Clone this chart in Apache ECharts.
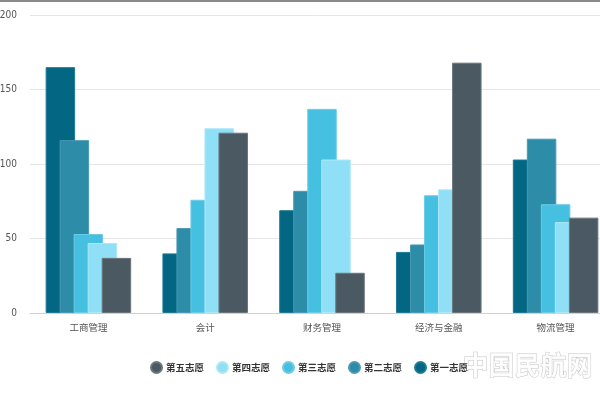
<!DOCTYPE html>
<html>
<head>
<meta charset="utf-8">
<script src="https://cdn.jsdelivr.net/npm/echarts@6/dist/echarts.min.js"></script>
<style>html,body{margin:0;padding:0;background:#fff;}#c{width:600px;height:400px;}</style>
</head>
<body>
<div id="c"></div>
<script>
var categories = ['工商管理', '会计', '财务管理', '经济与金融', '物流管理'];
var seriesNames = ['第一志愿', '第二志愿', '第三志愿', '第四志愿', '第五志愿'];
var legendOrder = ['第五志愿', '第四志愿', '第三志愿', '第二志愿', '第一志愿'];
var choice1 = [165, 40, 69, 41, 103];
var choice2 = [116, 57, 82, 46, 117];
var choice3 = [53, 76, 137, 79, 73];
var choice4 = [47, 124, 103, 83, 61];
var choice5 = [37, 121, 27, 168, 64];
var yTicks = [0, 50, 100, 150, 200];

var values = [choice1, choice2, choice3, choice4, choice5];
var colors = ['#036784', '#2d8ca8', '#46c0e1', '#8fe0f6', '#4b5a62'];
var borders = ['#1d7a96', '#4a9ab3', '#6ccbe6', '#aee8f8', '#6b777d'];

var chart = echarts.init(document.getElementById('c'));
var series = seriesNames.map(function (n, i) {
  return {
    name: n,
    type: 'bar',
    data: values[i],
    barWidth: 29.5,
    barGap: '-52.5%',
    itemStyle: { color: colors[i], borderColor: borders[i], borderWidth: 1 }
  };
});
chart.setOption({
  animation: false,
  color: colors,
  grid: { left: 30, width: 584, top: 15, height: 298, containLabel: false, outerBoundsMode: 'none' },
  legend: {
    data: legendOrder,
    top: 356,
    left: 145,
    icon: 'circle',
    itemWidth: 11,
    itemHeight: 11,
    itemGap: 12,
    textStyle: { color: '#333', fontSize: 9.5, fontWeight: 'bold', fontFamily: 'Noto Sans CJK SC', padding: [0, 0, 0, -1] }
  },
  xAxis: {
    type: 'category',
    data: categories,
    axisTick: { show: false },
    axisLine: { lineStyle: { color: '#c9d1e3' } },
    axisLabel: { color: '#555', fontSize: 9.5, margin: 10, fontFamily: 'Noto Sans CJK SC' }
  },
  yAxis: {
    type: 'value',
    min: yTicks[0],
    max: yTicks[yTicks.length - 1],
    interval: 50,
    axisLine: { show: false },
    axisTick: { show: false },
    splitLine: { lineStyle: { color: '#e6e6e6' } },
    axisLabel: { color: '#555', fontSize: 10, margin: 13, fontFamily: '"DejaVu Sans Condensed", "Liberation Sans Narrow", sans-serif' }
  },
  graphic: [{
    type: 'rect',
    left: 0, top: 0,
    shape: { width: 600, height: 2 },
    style: { fill: '#8a8a8a' }
  }, {
    type: 'text',
    left: 462,
    top: 352,
    style: {
      text: '中国民航网',
      font: 'bold 26px "Noto Sans CJK SC"',
      fill: 'rgba(255,255,255,0.9)',
      stroke: '#c8c8c8',
      lineWidth: 1
    },
    z: -1
  }],
  series: series
});
</script>
</body>
</html>
